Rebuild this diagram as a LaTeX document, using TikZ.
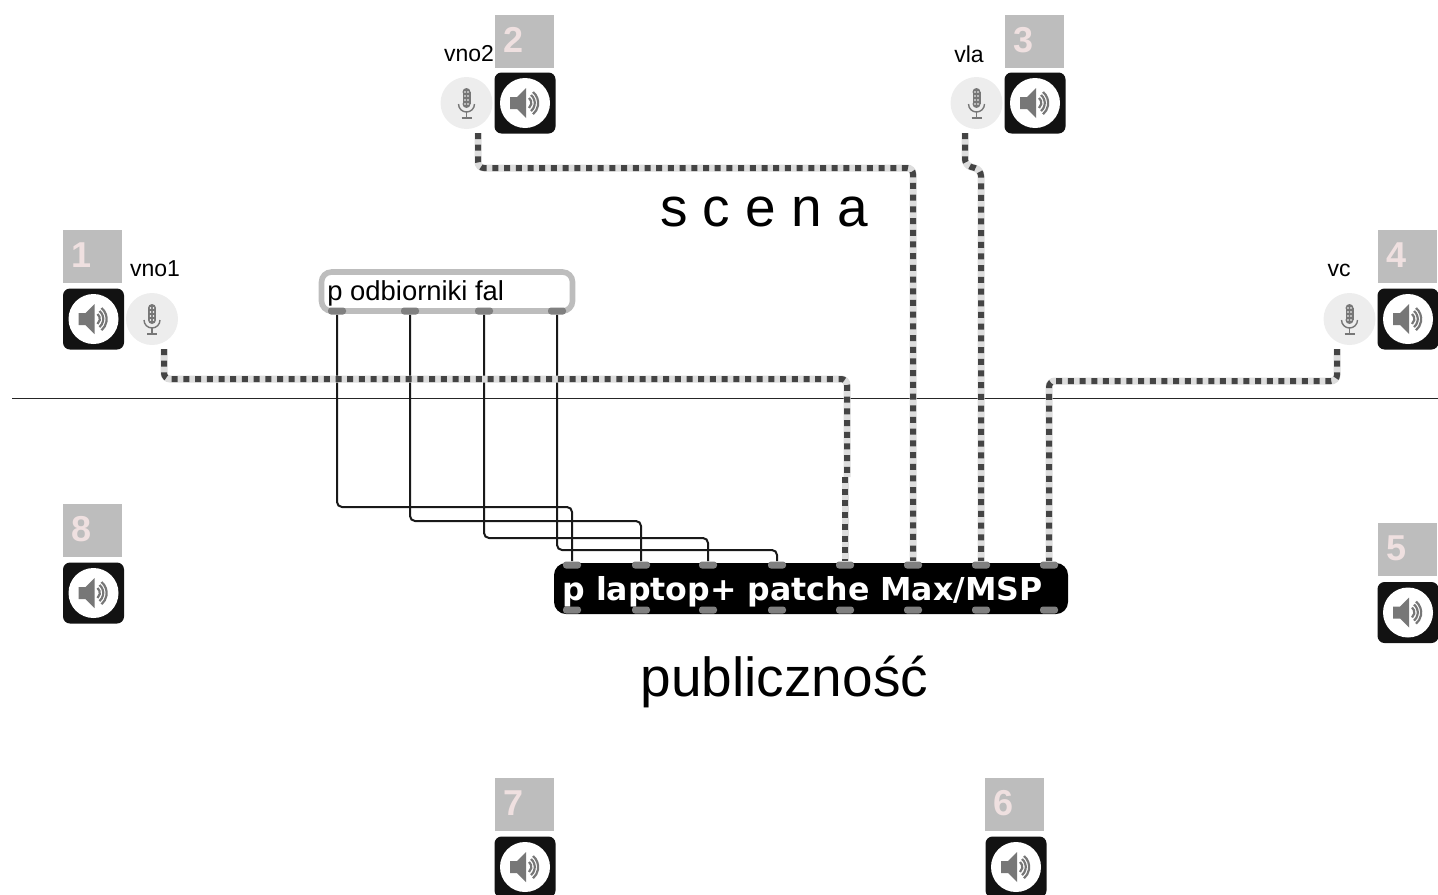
\documentclass[tikz,border=0pt]{standalone}
\usepackage{fontspec}
\setmainfont{Liberation Sans}
\newfontfamily\patchfont{DejaVu Sans}
\definecolor{tagcol}{HTML}{BDBDBD}
\definecolor{digitcol}{HTML}{EFE0E0}
\definecolor{portcol}{HTML}{808080}
\definecolor{iconcol}{HTML}{777777}
\definecolor{sigdark}{HTML}{444444}
\definecolor{siglight}{HTML}{DDDDDD}
\tikzset{
spk/.style={fill=black!93,rectangle,rounded corners=3.5pt,minimum size=30.5pt,inner sep=0pt},
tag/.style={fill=tagcol,rectangle,minimum width=29.5pt,minimum height=26.5pt,inner sep=0pt},
digit/.style={text=digitcol,font=\fontsize{18}{18}\selectfont\bfseries,inner sep=0pt},
mic/.style={fill=black!7,circle,minimum size=26pt,inner sep=0pt},
lbl/.style={font=\fontsize{11.5}{12}\selectfont,inner sep=0pt},
port/.style={fill=portcol,rectangle,rounded corners=1.5pt,minimum width=9pt,minimum height=3.5pt,inner sep=0pt},
wire/.style={draw=black!90,line width=1pt,rounded corners=2.5pt},
sig/.style={draw=siglight,line width=3.5pt,rounded corners=3pt,postaction={draw=sigdark,line width=3pt,dash pattern=on 3pt off 2.85pt}},
spkicon/.pic={
\fill[white] (0,0) circle (25);
\fill[iconcol] (-15,-6) -- (-8,-6) -- (1,-15) -- (1,15) -- (-8,6) -- (-15,6) -- cycle;
\draw[iconcol,line width=1.1pt] (4,-5) arc (-50:50:6.5);
\draw[iconcol,line width=1.1pt] (6,-8) arc (-50:50:10.5);
\draw[iconcol,line width=1.1pt] (8,-11) arc (-50:50:14.5);
},
micicon/.pic={
\fill[iconcol] (-4,-11) rectangle (4,1);
\fill[iconcol] (0,-11) circle (4) (0,1) circle (4);
\foreach \yy in {-11,-7,-3,1} {\fill[white] (-1.5,\yy) circle (.8) (1.5,\yy) circle (.8);}
\draw[iconcol,line width=.7pt] (-8,1) arc (180:0:8);
\draw[iconcol,line width=.7pt] (0,9) -- (0,15) (-5,15) -- (5,15);
}}
\begin{document}
\begin{tikzpicture}[x=.5pt,y=-.5pt]
\clip (0,0) rectangle (1438,894);
\draw[black!85,line width=.5pt] (12,398) -- (1438,398);
% speakers and their numbers
\foreach \nm/\xx/\yy/\tx/\ty/\num in {SA/93.5/319/92.5/256.5/1,SB/525/103/524.5/41/2,SC/1035/103/1034.5/41/3,SD/1408/319/1407.5/256.5/4,SE/1408/612.5/1407.5/549.5/5,SF/1016/867/1014.5/804.5/6,SG/525/867/524.5/804.5/7,SH/93.5/593/92.5/530.5/8} {
\node[spk] (\nm) at (\xx,\yy) {};
\pic at (\nm) {spkicon};
\node[tag] (T\nm) at (\tx,\ty) {};
\node[digit,anchor=center] (D\nm) at ([xshift=-5.7pt,yshift=.6pt]T\nm.center) {\num};
}
% microphones
\node[mic] (MA) at (152,319) {};
\node[mic] (MB) at (466.5,103) {};
\node[mic] (MC) at (976.5,103) {};
\node[mic] (MD) at (1349.5,319) {};
\foreach \nm in {MA,MB,MC,MD} {\pic at (\nm) {micicon};}
\node[lbl] (LA) at (155,269) {vno1};
\node[lbl] (LB) at (469,54) {vno2};
\node[lbl] (LC) at (969,54) {vla};
\node[lbl] (LD) at (1339,270) {vc};
\node[inner sep=0pt,font=\fontsize{27.5}{28}\selectfont] (SCN) at (764,212) {s c e n a};
\node[inner sep=0pt,font=\fontsize{27.5}{28}\selectfont] (PUB) at (784.5,682) {publiczność};
% subpatches
\node[draw=tagcol,line width=2.8pt,fill=white,rounded corners=5pt,minimum width=125.5pt,minimum height=19.5pt,inner sep=0pt] (OD) at (447,291.5) {};
\node[anchor=west,inner sep=0pt,font=\fontsize{13.7}{14}\selectfont] (ODT) at (327,293) {p odbiorniki fal};
\node[fill=black,rounded corners=6pt,minimum width=257pt,minimum height=25.5pt,inner sep=0pt] (LT) at (811,588.5) {};
\node[anchor=west,inner sep=0pt,text=white,font=\patchfont\fontsize{15.8}{16}\selectfont\bfseries] (LTT) at (562,592) {p laptop+ patche Max/MSP};
\foreach \nm/\xx in {OA/337,OB/410,OC/484,OE/557} {\node[port] (\nm) at (\xx,311) {};}
\foreach \nm/\xx in {A/572,B/641,C/708,D/777,E/845,F/913,G/981,H/1049} {
\node[port] (PT\nm) at (\xx,565) {};
\node[port] (PB\nm) at (\xx,610) {};
}
% black wires
\draw[wire] (OA.south) -- (OA |- 0,507) -- (PTA |- 0,507) -- (PTA.north);
\draw[wire] (OB.south) -- (OB |- 0,521) -- (PTB |- 0,521) -- (PTB.north);
\draw[wire] (OC.south) -- (OC |- 0,538) -- (PTC |- 0,538) -- (PTC.north);
\draw[wire] (OE.south) -- (OE |- 0,550) -- (PTD |- 0,550) -- (PTD.north);
% microphone lines
\coordinate (CA) at (164,349);
\coordinate (CB) at (478,133);
\coordinate (CC) at (965,133);
\coordinate (CD) at (1337,349);
\coordinate (CE) at (845,477);
\draw[sig] (CA) -- (164,379) -- (847,379) -- (847,477);
\draw[sig] (CE) -- (PTE.north);
\draw[sig] (CB) -- (478,168) -- (913,168) -- (PTF.north);
\draw[sig] (CC) -- (965,165) -- (981,170) -- (PTG.north);
\draw[sig] (CD) -- (1337,381) -- (1049,381) -- (PTH.north);
\end{tikzpicture}
\end{document}
